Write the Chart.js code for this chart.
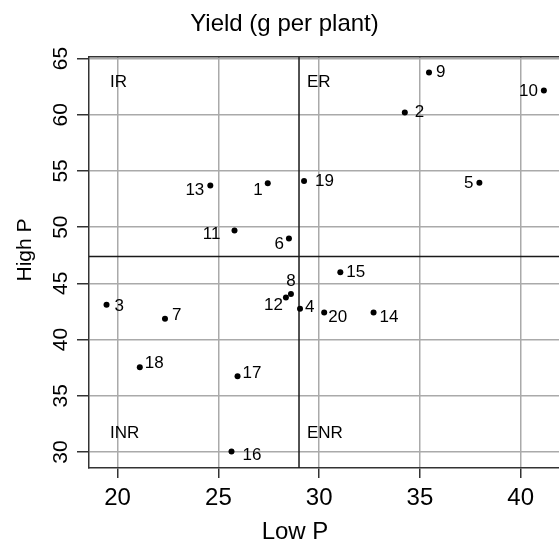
<!DOCTYPE html>
<html>
<head>
<meta charset="utf-8">
<script src="https://cdn.jsdelivr.net/npm/chart.js@4/dist/chart.umd.min.js"></script>
<style>html,body{margin:0;padding:0;background:#fff;}canvas{display:block;}</style>
</head>
<body>
<canvas id="c" width="559" height="544"></canvas>
<script>
// ---- data ----
const genotypes = ['1','2','3','4','5','6','7','8','9','10','11','12','13','14','15','16','17','18','19','20'];
const lowP  = [27.45, 34.25, 19.45, 29.05, 37.95, 28.5, 22.35, 28.6, 35.45, 41.15, 25.8, 28.35, 24.6, 32.7, 31.05, 25.65, 25.95, 21.1, 29.25, 30.25];
const highP = [53.9, 60.2, 43.1, 42.75, 53.95, 49.0, 41.85, 44.05, 63.75, 62.15, 49.7, 43.75, 53.7, 42.4, 46.0, 30.05, 36.75, 37.55, 54.1, 42.4];
const xTicks = [20, 25, 30, 35, 40];
const yTicks = [30, 35, 40, 45, 50, 55, 60, 65];
const cutLowP = 29.0;
const cutHighP = 47.4;
const quadrantNames = ['IR', 'ER', 'INR', 'ENR'];
const titleText = 'Yield (g per plant)';
const xTitle = 'Low P';
const yTitle = 'High P';
const xRange = [18.58, 41.9];
const yRange = [28.58, 65.15];

// ---- label placement (style) ----
const labelPlace = {
  '1':['right',-5,7], '2':['left',10,0], '3':['left',8,2], '4':['left',5,-1], '5':['right',-6,1],
  '6':['right',-5,6], '7':['left',7,-3], '8':['center',0,-13], '9':['left',7,0], '10':['right',-6,1],
  '11':['right',-14,4], '12':['right',-3,8], '13':['right',-6,5], '14':['left',6,5], '15':['left',6,0],
  '16':['left',11,4], '17':['left',5,-3], '18':['left',5,-4], '19':['left',11,0], '20':['left',4,5]
};
const FONT = '"Liberation Sans", Arial, Helvetica, sans-serif';

const overlay = {
  id: 'overlay',
  beforeDatasetsDraw(chart) {
    const {ctx, chartArea: a, scales: {x, y}} = chart;
    ctx.save();
    ctx.strokeStyle = '#1a1a1a';
    ctx.lineWidth = 1.5;
    const px = x.getPixelForValue(cutLowP);
    const py = y.getPixelForValue(cutHighP);
    ctx.beginPath();
    ctx.moveTo(px, a.top); ctx.lineTo(px, a.bottom);
    ctx.moveTo(a.left, py); ctx.lineTo(a.right, py);
    ctx.stroke();
    // top frame line
    ctx.strokeStyle = '#333';
    ctx.lineWidth = 1.5;
    ctx.beginPath();
    ctx.moveTo(a.left, a.top); ctx.lineTo(a.right, a.top);
    ctx.stroke();
    ctx.restore();
  },
  afterDatasetsDraw(chart) {
    const {ctx, chartArea: a, scales: {x}} = chart;
    const meta = chart.getDatasetMeta(0);
    ctx.save();
    ctx.fillStyle = '#000';
    ctx.textBaseline = 'middle';
    ctx.font = '17px ' + FONT;
    meta.data.forEach((pt, i) => {
      const name = genotypes[i];
      const p = labelPlace[name] || ['left', 6, 0];
      ctx.textAlign = p[0];
      ctx.fillText(name, pt.x + p[1], pt.y + p[2]);
    });
    // quadrant names
    const px = x.getPixelForValue(cutLowP);
    ctx.font = '17px ' + FONT;
    ctx.textAlign = 'left';
    ctx.fillText(quadrantNames[0], a.left + 21, a.top + 26);
    ctx.fillText(quadrantNames[1], px + 8, a.top + 26);
    ctx.fillText(quadrantNames[2], a.left + 21, a.bottom - 35);
    ctx.fillText(quadrantNames[3], px + 8, a.bottom - 35);
    // axis titles
    ctx.font = '24px ' + FONT;
    ctx.textAlign = 'center';
    ctx.fillText(xTitle, 295, 532);
    ctx.save();
    ctx.translate(25, 250);
    ctx.rotate(-Math.PI / 2);
    ctx.font = '21px ' + FONT;
    ctx.fillText(yTitle, 0, 0);
    ctx.restore();
    ctx.restore();
  }
};

new Chart(document.getElementById('c'), {
  type: 'scatter',
  data: {
    datasets: [{
      data: lowP.map((v, i) => ({x: v, y: highP[i]})),
      pointRadius: 3,
      pointHoverRadius: 3,
      backgroundColor: '#000',
      borderWidth: 0
    }]
  },
  options: {
    responsive: false,
    animation: false,
    events: [],
    layout: {autoPadding: false, padding: {left: 10, right: 0, top: 0, bottom: 0}},
    plugins: {
      legend: {display: false},
      tooltip: {enabled: false},
      title: {
        display: true,
        text: titleText,
        color: '#000',
        font: {family: FONT, size: 24, weight: 'normal', lineHeight: 1.2},
        padding: {top: 10, bottom: 18}
      }
    },
    scales: {
      x: {
        type: 'linear',
        position: 'bottom',
        min: xRange[0], max: xRange[1],
        afterBuildTicks: s => { s.ticks = xTicks.map(v => ({value: v})); },
        afterFit: s => { s.height = 76; },
        ticks: {
          autoSkip: false, maxRotation: 0, minRotation: 0,
          color: '#000', padding: 6,
          font: {family: FONT, size: 24, lineHeight: 1.2},
          callback: v => String(v)
        },
        grid: {color: '#aaaaaa', lineWidth: 1.5, tickColor: '#333', tickWidth: 1.5, tickLength: 10, drawTicks: true},
        border: {display: true, color: '#333', width: 1.5}
      },
      y: {
        type: 'linear',
        position: 'left',
        min: yRange[0], max: yRange[1],
        afterBuildTicks: s => { s.ticks = yTicks.map(v => ({value: v})); },
        afterFit: s => { s.width = 79; },
        ticks: {
          autoSkip: false, minRotation: 90, maxRotation: 90,
          crossAlign: 'center',
          color: '#000', padding: 4,
          font: {family: FONT, size: 21, lineHeight: 1.2},
          callback: v => String(v)
        },
        grid: {color: '#aaaaaa', lineWidth: 1.5, tickColor: '#333', tickWidth: 1.5, tickLength: 12, drawTicks: true},
        border: {display: true, color: '#333', width: 1.5}
      }
    }
  },
  plugins: [overlay]
});
</script>
</body>
</html>
